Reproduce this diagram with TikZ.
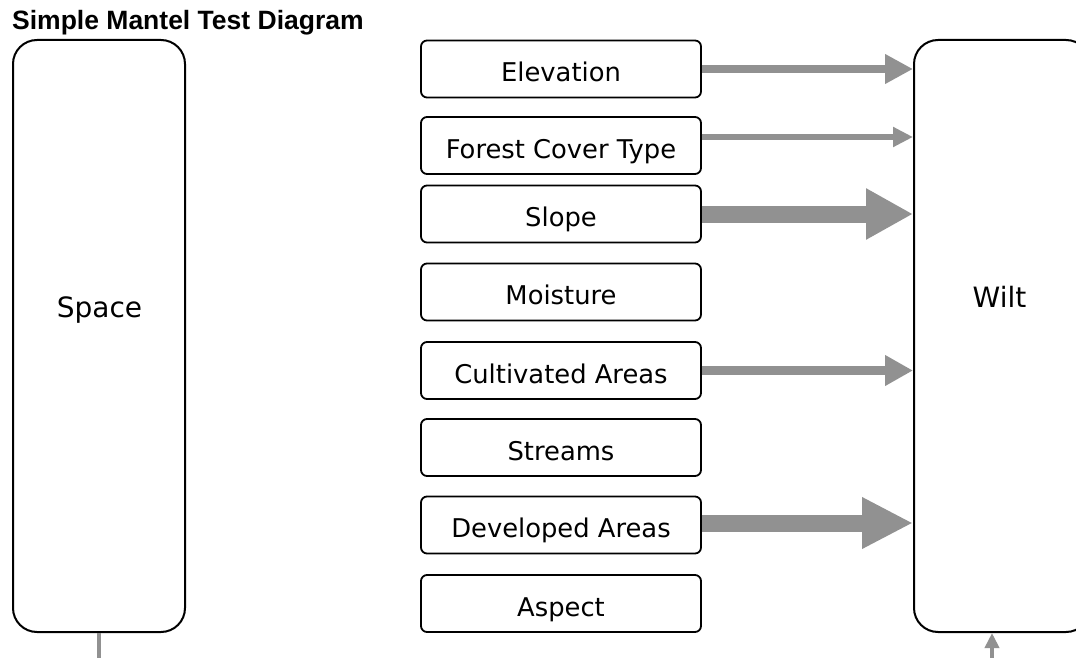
\documentclass[tikz,border=0pt]{standalone}
\usepackage{fontspec}
\setmainfont{DejaVu Sans}
\newfontfamily\titlefont{Liberation Sans}
\usetikzlibrary{arrows.meta}
\definecolor{arrowgray}{RGB}{145,145,145}
\begin{document}
\begin{tikzpicture}[x=1pt,y=-1pt,
  tallbox/.style={draw, line width=2pt, rounded corners=24pt,
    minimum height=592pt, inner sep=0pt},
  factor/.style={draw, line width=1.8pt, rounded corners=6pt,
    minimum width=280pt, minimum height=57pt, inner sep=0pt,
    font=\fontsize{25.8}{30}\selectfont, text height=25pt, text depth=0pt},
  bigword/.style={anchor=base, inner sep=0pt, font=\fontsize{28}{32}\selectfont},
  flow/.style n args={3}{draw=arrowgray, fill=arrowgray, line width=#1,
    -{Triangle[length=#2, width=#3]}},
  stub/.style={draw=arrowgray, line width=4pt}]
  % page
  \useasboundingbox (0,0) rectangle (1076,658);
  \fill[white] (0,0) rectangle (1076,658);
  \clip (0,0) rectangle (1076,658);

  % title
  \node[anchor=base west, inner sep=0pt,
        font=\titlefont\bfseries\fontsize{26.5}{30}\selectfont]
        (title) at (12,30) {Simple Mantel Test Diagram};

  % the two distance matrices
  \node[tallbox, minimum width=172pt] (space) at (99,336) {};
  \node[tallbox, minimum width=176pt] (wilt) at (1002,336) {};
  \node[bigword] (spacetxt) at (99.5,317) {Space};
  \node[bigword] (wilttxt) at (999.5,307) {Wilt};

  % explanatory factors
  \node[factor] (elev)  at (561,69)    {Elevation};
  \node[factor] (forest) at (561,145.5) {Forest Cover Type};
  \node[factor] (slope) at (561,214)   {Slope};
  \node[factor] (moist) at (561,292)   {Moisture};
  \node[factor] (cult)  at (561,370.5) {Cultivated Areas};
  \node[factor] (strm)  at (561,447.5) {Streams};
  \node[factor] (devel) at (561,525)   {Developed Areas};
  \node[factor] (asp)   at (561,603.5) {Aspect};

  % effects on wilt, arrow weight by strength
  \draw[flow={8pt}{28pt}{28pt}]  (elev.east) -- (elev.east -| wilt.west);
  \draw[flow={6pt}{20pt}{19pt}]  ([yshift=8.5pt]forest.east) -- ([yshift=8.5pt]forest.east -| wilt.west);
  \draw[flow={17pt}{47pt}{48pt}] (slope.east) -- (slope.east -| wilt.west);
  \draw[flow={9pt}{28pt}{29pt}]  (cult.east) -- (cult.east -| wilt.west);
  \draw[flow={17pt}{51pt}{48pt}] ([yshift=2pt]devel.east) -- ([yshift=2pt]devel.east -| wilt.west);

  % links leaving the bottom edge
  \coordinate (spacefoot) at (99,660);
  \coordinate (wiltfoot) at (992,660);
  \draw[stub] (space.south) -- (spacefoot);
  \draw[stub, -{Triangle[length=15pt, width=14pt]}] (wiltfoot) -- (wiltfoot |- wilt.south);
\end{tikzpicture}
\end{document}
